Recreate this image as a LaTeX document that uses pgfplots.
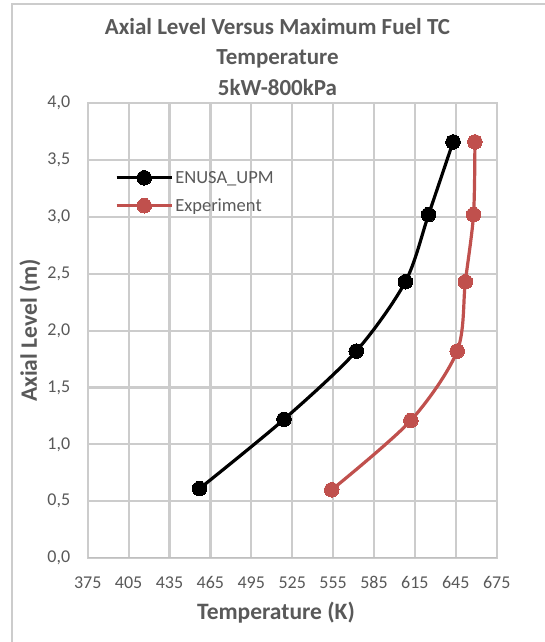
\documentclass[border=0pt]{standalone}
\usepackage{fontspec}
\setmainfont{Carlito}
\usepackage{pgfplots}
\pgfplotsset{compat=1.18}
\definecolor{gridc}{HTML}{CCCCCC}
\definecolor{axisc}{HTML}{BFBFBF}
\definecolor{txtc}{HTML}{595959}
\definecolor{expc}{HTML}{C0504D}

% Axial level (m) versus maximum fuel TC temperature (K)
\pgfplotstableread{
T     z
457   0.61
519   1.22
572   1.82
608   2.43
625   3.02
643   3.66
}\enusa
\pgfplotstableread{
T     z
554   0.60
612   1.21
646   1.82
652   2.43
658   3.02
659   3.66
}\experiment

\begin{document}
\begin{tikzpicture}[x=1pt,y=1pt]
\useasboundingbox (0,0) rectangle (544,642);
\fill[white] (0,0) rectangle (544,642);
% chart frame
\draw[gridc, line width=2pt] (12,-5) -- (12,638) -- (560,638);
% title
\node[txtc, font=\fontsize{23}{30.5}\selectfont\bfseries, align=center] at (277.5,585) {Axial Level Versus Maximum Fuel TC\\Temperature\\5kW-800kPa};
% axis titles
\node[txtc, font=\fontsize{23.5}{28}\selectfont\bfseries] at (276,29.3) {Temperature (K)};
\node[txtc, font=\fontsize{23.5}{28}\selectfont\bfseries, rotate=90] at (30,311.5) {Axial Level (m)};
\begin{axis}[
  at={(87.7pt,84pt)}, anchor=south west,
  scale only axis, width=409pt, height=454.7pt,
  xmin=375, xmax=675, ymin=0, ymax=4,
  xtick={375,405,...,675}, ytick={0,0.5,...,4},
  grid=major,
  grid style={draw=gridc, line width=2.2pt},
  axis line style={draw=gridc, line width=2.2pt},
  % inward ticks in the grid colour lie on the gridlines
  tick align=inside,
  tick style={draw=gridc, line width=2.2pt},
  ticklabel style={txtc, font=\fontsize{18}{21}\selectfont},
  /pgf/number format/assume math mode=true,
  yticklabel style={/pgf/number format/.cd, use comma, fixed, fixed zerofill, precision=1},
  xticklabel style={/pgf/number format/.cd, fixed, 1000 sep={}},
  xticklabel shift=15pt, yticklabel shift=14pt,
  legend style={at={(0.067,0.805)}, anchor=west, draw=none, fill=none,
    font=\fontsize{18.5}{22}\selectfont, text=txtc, row sep=10pt,
    inner sep=0pt, outer sep=0pt,
    /tikz/every even column/.append style={column sep=5pt}},
  legend cell align=left,
  legend image code/.code={%
    \draw[#1, mark=none] (0pt,0pt) -- (55pt,0pt);
    \draw[#1, only marks] plot coordinates {(27.5pt,0pt)};},
]
% horizontal axis line, darker than the gridlines
\draw[axisc, line width=2.2pt] (rel axis cs:0,0) -- (rel axis cs:1,0);
\addplot[black, line width=3.2pt, smooth, tension=0.5, mark=*, mark size=7.3pt,
  mark options={solid, fill=black, draw=black, line width=0pt}] table[x=T, y=z] {\enusa};
\addlegendentry{ENUSA\_UPM}
\addplot[expc, line width=3.2pt, smooth, tension=0.5, mark=*, mark size=7.3pt,
  mark options={solid, fill=expc, draw=expc, line width=0pt}] table[x=T, y=z] {\experiment};
\addlegendentry{Experiment}
\end{axis}
\end{tikzpicture}
\end{document}
